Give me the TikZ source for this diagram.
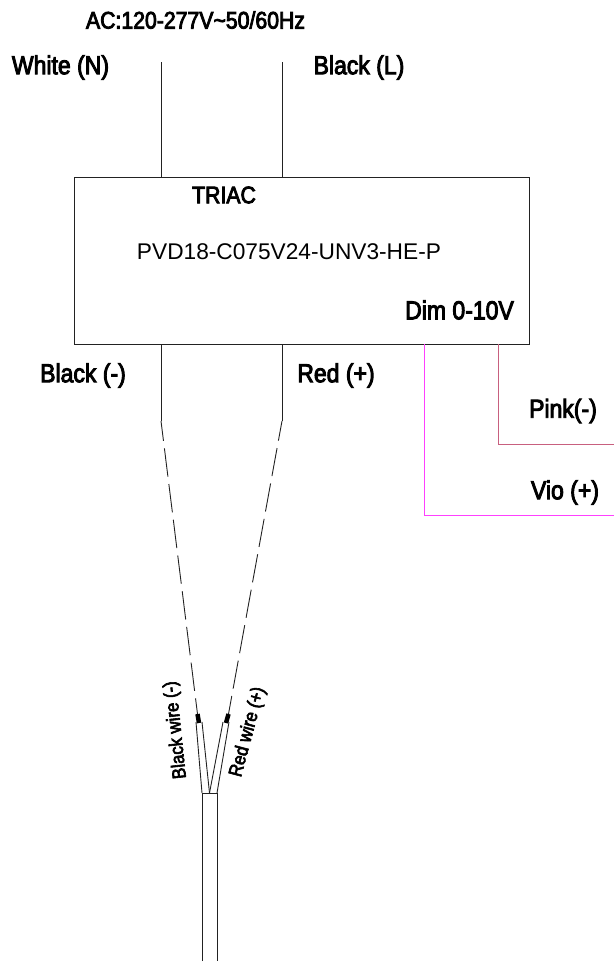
\documentclass[tikz,border=0pt]{standalone}
\usepackage{fontspec}
\setmainfont{Liberation Sans}
\newfontfamily\labfont{Liberation Sans}[FakeBold=3.5,FakeStretch=0.885]
\newfontfamily\wirefont{Liberation Sans}[FakeBold=3.5]
\newcommand{\wiretext}[1]{\scalebox{0.885}[1]{\wirefont\fontsize{19}{19}\selectfont #1}}
\definecolor{pinkwire}{HTML}{C8607F}
\definecolor{viowire}{HTML}{FF40FF}
\definecolor{wire}{HTML}{222222}
\tikzset{
  px/.style={x=1pt,y=-1pt},
  wireline/.style={draw=wire,line width=0.9pt},
  brokenwire/.style={draw=wire,line width=0.9pt,dash pattern=on 28.5pt off 7.5pt,dash phase=8.5pt},
  lab/.style={inner sep=0pt,font=\labfont\fontsize{26}{26}\selectfont,text=black},
  smalllab/.style={inner sep=0pt,text=black},
  plainlab/.style={inner sep=0pt,font=\fontsize{22.7}{23}\selectfont,text=black},
  sleeve/.style={draw=black,line width=4.5pt},
  drv/.style={draw=wire,line width=0.9pt,inner sep=0pt,minimum width=455pt,minimum height=167pt}
}
\begin{document}
\begin{tikzpicture}[px]
\useasboundingbox (0,0) rectangle (614,962);
\fill[white] (0,0) rectangle (614,962);
\node[drv] (box) at (301.5,260.5) {};
% top wires
\coordinate (nt) at (161,62); \coordinate (nb) at (161,177);
\coordinate (lt) at (282,62); \coordinate (lb) at (282,177);
\draw[wireline] (nt) -- (nb);
\draw[wireline] (lt) -- (lb);
% output wires
\coordinate (bt) at (161,344); \coordinate (bk) at (161,421); \coordinate (bs) at (197.5,714);
\coordinate (rt) at (282,344); \coordinate (rk) at (282,421); \coordinate (rs) at (228.5,714);
\draw[wireline] (bt) -- (bk);
\draw[wireline] (rt) -- (rk);
\draw[brokenwire] (bk) -- (bs);
\draw[brokenwire] (rk) -- (rs);
% sleeves
\coordinate (bs2) at (199,723); \coordinate (rs2) at (226,723);
\draw[sleeve] (bs) -- (bs2);
\draw[sleeve] (rs) -- (rs2);
% cable
\coordinate (c1) at (202,793); \coordinate (c2) at (217,793);
\coordinate (c3) at (202,961); \coordinate (c4) at (217,961);
\coordinate (cm) at (209.5,793);
\draw[wireline] (c3) -- (c1) -- (c2) -- (c4);
\coordinate (b1) at (196,722); \coordinate (b2) at (202,722);
\coordinate (r1) at (223,722); \coordinate (r2) at (229,722);
\draw[wireline] (b1) -- (c1);
\draw[wireline] (b2) -- (cm);
\draw[wireline] (r1) -- (cm);
\draw[wireline] (r2) -- (c2);
% dim wires
\coordinate (pt) at (498,344); \coordinate (pc) at (498,444); \coordinate (pe) at (614,444);
\coordinate (vt) at (424.5,344); \coordinate (vc) at (424.5,515.5); \coordinate (ve) at (614,515.5);
\draw[draw=pinkwire,line width=0.9pt] (pt) -- (pc) -- (pe);
\draw[draw=viowire,line width=0.9pt] (vt) -- (vc) -- (ve);
% labels
\node[lab,font=\labfont\fontsize{24}{24}\selectfont] (ac) at (195.5,20) {AC:120-277V\char"007E 50/60Hz};
\node[lab] (white) at (60.5,67.5) {White (N)};
\node[lab] (blackl) at (359,67.5) {Black (L)};
\node[lab,font=\labfont\fontsize{24}{24}\selectfont] (triac) at (224,195) {TRIAC};
\node[plainlab] (model) at (289,252) {PVD18-C075V24-UNV3-HE-P};
\node[lab] (dim) at (459.5,310) {Dim 0-10V};
\node[lab] (blackm) at (83,375.5) {Black (-)};
\node[lab] (redp) at (336,375.5) {Red (+)};
\node[lab] (pink) at (563,411) {Pink(-)};
\node[lab] (vio) at (565,492.5) {Vio (+)};
\node[smalllab,rotate=96] (bw) at (176,730) {\wiretext{Black wire (-)}};
\node[smalllab,rotate=75] (rw) at (248,732) {\wiretext{Red wire (+)}};
\end{tikzpicture}
\end{document}
